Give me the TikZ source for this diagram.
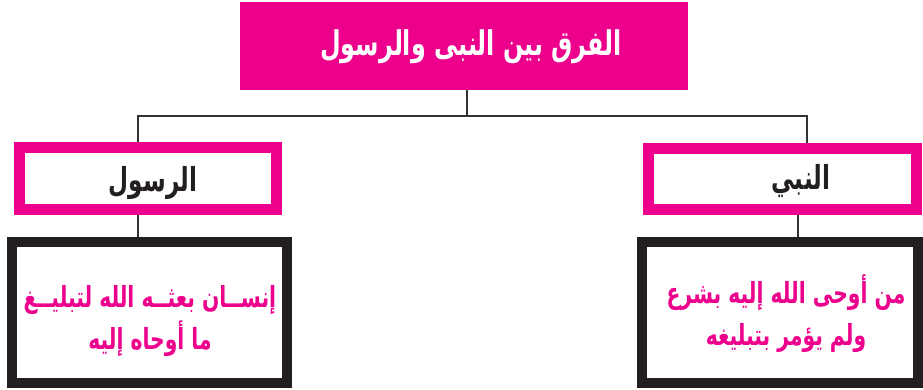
\documentclass[tikz,border=0pt]{standalone}
\usepackage{fontspec}
\TeXXeTstate=1
\newfontfamily\arabicfont[Script=Arabic,FakeStretch=0.7]{DejaVu Sans}
\definecolor{mag}{HTML}{EC008C}
\definecolor{blk}{HTML}{231F20}
\definecolor{conn}{HTML}{333333}
\tikzset{
  titlebox/.style={fill=mag, draw=none, inner sep=0pt, minimum width=448pt, minimum height=88pt},
  headbox/.style={draw=mag, line width=11pt, fill=white, inner sep=0pt},
  bodybox/.style={draw=blk, line width=10pt, fill=white, inner sep=0pt, minimum height=141pt},
  titletext/.style={text=white, font=\arabicfont\bfseries\fontsize{34}{38}\selectfont},
  headtext/.style={text=blk, font=\arabicfont\bfseries\fontsize{33}{38}\selectfont},
  bodytext/.style={text=mag, align=center, font=\arabicfont\bfseries\fontsize{29}{42}\selectfont},
  conn/.style={draw=conn, line width=2.5pt}
}
\begin{document}
\begin{tikzpicture}[x=1pt,y=-1pt]
\useasboundingbox (0,0) rectangle (923,390);
% top
\node[titlebox] (top) at (464,46) {};
\node[titletext] (toptxt) at (471,47) {\beginR الفرق بين النبى والرسول\endR};
% head boxes
\node[headbox, minimum width=257pt, minimum height=62pt] (lhead) at (148,178.5) {};
\node[headtext] (lheadtxt) at (153,183) {\beginR الرسول\endR};
\node[headbox, minimum width=268pt, minimum height=61pt] (rhead) at (782,179) {};
\node[headtext] (rheadtxt) at (801,181) {\beginR النبي\endR};
% body boxes
\node[bodybox, minimum width=275pt] (lbody) at (149.5,312.5) {};
\node[bodytext] (lbodytxt) at (150,321) {\beginR إنســان بعثــه الله لتبليــغ\endR\\\beginR ما أوحاه إليه\endR};
\node[bodybox, minimum width=276pt] (rbody) at (780,312.5) {};
\node[bodytext] (rbodytxt) at (786,314) {\beginR من أوحى الله إليه بشرع\endR\\\beginR ولم يؤمر بتبليغه\endR};
% connectors
\coordinate (j) at (467,116);
\coordinate (jl) at (138,116);
\coordinate (jr) at (807,116);
\coordinate (jr2) at (798,116);
\draw[conn] (top.south -| j) -- (j);
\draw[conn, line cap=rect] (jl) -- (jr);
\draw[conn] (jl) -- (lhead.north -| jl);
\draw[conn] (jr) -- (rhead.north -| jr);
\draw[conn] (lhead.south -| jl) -- (lbody.north -| jl);
\draw[conn] (rhead.south -| jr2) -- (rbody.north -| jr2);
\end{tikzpicture}
\end{document}
